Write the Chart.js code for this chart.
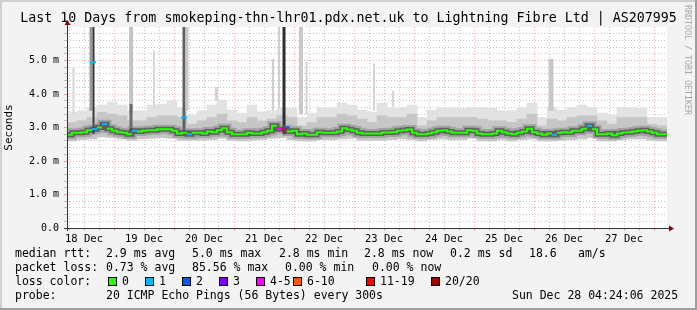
<!DOCTYPE html>
<html>
<head>
<meta charset="utf-8">
<script src="https://cdn.jsdelivr.net/npm/chart.js@4.4.1/dist/chart.umd.min.js"></script>
<style>
html, body { margin: 0; padding: 0; background: #f3f3f3; }
canvas { display: block; }
</style>
</head>
<body>
<canvas id="chart" width="697" height="310"></canvas>
<script>
// time axis in hours after 18 Dec 00:00
const startHour = 5.2;
const endHour = 245.2;
const medianStep = 2;
const smokeStep = 4;

const dayLabels = ['18 Dec', '19 Dec', '20 Dec', '21 Dec', '22 Dec', '23 Dec', '24 Dec', '25 Dec', '26 Dec', '27 Dec'];
const yLabels = ['0.0', '1.0 m', '2.0 m', '3.0 m', '4.0 m', '5.0 m'];

// median rtt (ms), one value per 2h
const median = [
	2.78, 2.84, 2.84, 2.86, 2.92, 2.95, 3.0, 3.1, 2.96, 2.9,
	2.86, 2.84, 2.8, 2.9, 2.88, 2.9, 2.92, 2.92, 2.95, 2.95,
	2.95, 2.9, 2.82, 2.84, 2.8, 2.84, 2.84, 2.82, 2.88, 2.86,
	2.92, 2.98, 2.86, 2.8, 2.8, 2.8, 2.84, 2.82, 2.82, 2.86,
	2.9, 3.05, 2.95, 2.95, 2.88, 2.9, 2.8, 2.82, 2.78, 2.78,
	2.86, 2.84, 2.84, 2.84, 2.88, 2.98, 2.94, 2.9, 2.84, 2.82,
	2.82, 2.82, 2.82, 2.85, 2.85, 2.86, 2.9, 2.92, 2.94, 2.84,
	2.8, 2.8, 2.82, 2.86, 2.9, 2.92, 2.88, 2.84, 2.84, 2.84,
	2.92, 2.9, 2.82, 2.8, 2.8, 2.82, 2.9, 2.86, 2.82, 2.8,
	2.84, 2.88, 2.96, 2.86, 2.82, 2.78, 2.82, 2.78, 2.84, 2.86,
	2.85, 2.9, 2.9, 2.96, 3.05, 2.95, 2.8, 2.8, 2.82, 2.77,
	2.82, 2.85, 2.86, 2.88, 2.9, 2.92, 2.88, 2.84, 2.8, 2.8
];
// bins of the median with packet loss, and their loss class
const lossBins = [5, 7, 13, 24, 42, 43, 97, 104];
const lossBinClass = [1, 1, 1, 1, 4, 6, 1, 1];

// lone median marks off the main line
const markHours = [15.6, 52.0, 92.8];
const markValues = [4.95, 3.3, 3.0];
const markClass = [1, 1, 2];

// smoke per 4h: bottom, middle band top, outer top (ms)
const smokeLo = [
	2.6, 2.64, 2.66, 2.72, 2.7, 2.66, 2.62, 2.66, 2.68, 2.7,
	2.68, 2.62, 2.62, 2.62, 2.64, 2.68, 2.62, 2.6, 2.62, 2.64,
	2.68, 2.7, 2.64, 2.6, 2.6, 2.64, 2.64, 2.66, 2.68, 2.62,
	2.62, 2.62, 2.64, 2.66, 2.64, 2.6, 2.64, 2.66, 2.64, 2.64,
	2.68, 2.6, 2.6, 2.64, 2.6, 2.64, 2.66, 2.6, 2.6, 2.62,
	2.64, 2.66, 2.7, 2.6, 2.6, 2.64, 2.66, 2.66, 2.62, 2.6
];
const smokeMid = [
	3.15, 3.2, 3.3, 3.45, 3.4, 3.35, 3.2, 3.2, 3.3, 3.35,
	3.35, 3.3, 3.1, 3.2, 3.3, 3.4, 3.2, 3.15, 3.3, 3.2,
	3.25, 3.35, 3.3, 3.05, 3.15, 3.3, 3.3, 3.4, 3.35, 3.25,
	3.15, 3.35, 3.3, 3.3, 3.4, 3.05, 3.2, 3.3, 3.3, 3.3,
	3.3, 3.25, 3.2, 3.2, 3.15, 3.25, 3.4, 3.05, 3.25, 3.2,
	3.3, 3.35, 3.35, 3.2, 3.1, 3.3, 3.3, 3.3, 3.1, 3.05
];
const smokeTop = [
	3.45, 3.5, 3.6, 3.67, 3.76, 3.67, 3.5, 3.5, 3.67, 3.7,
	3.8, 3.58, 3.37, 3.5, 3.67, 3.82, 3.52, 3.43, 3.67, 3.47,
	3.5, 3.6, 3.58, 3.3, 3.43, 3.6, 3.58, 3.73, 3.67, 3.52,
	3.46, 3.73, 3.58, 3.6, 3.67, 3.3, 3.52, 3.6, 3.58, 3.58,
	3.6, 3.6, 3.58, 3.5, 3.5, 3.6, 3.73, 3.3, 3.6, 3.52,
	3.6, 3.67, 3.6, 3.43, 3.37, 3.6, 3.6, 3.58, 3.3, 3.3
];

// tall single pings
const spikeHours = [7.8, 14.8, 15.8, 30.8, 30.8, 40.0, 52.0, 53.2, 65.0, 87.6, 90.0, 92.0, 98.8, 101.0, 128.0, 135.6, 198.8];
const spikeBase = [3.4, 3.5, 2.8, 3.4, 2.9, 3.6, 2.8, 3.5, 3.8, 3.5, 3.6, 2.8, 3.4, 3.4, 3.5, 3.6, 3.5];
const spikeTop = [4.8, 6.0, 6.0, 6.0, 3.7, 5.3, 6.0, 6.0, 4.2, 5.05, 6.0, 6.0, 6.0, 4.95, 4.9, 4.1, 5.05];

const medianStats = ['2.9 ms avg', '5.0 ms max', '2.8 ms min', '2.8 ms now', '0.2 ms sd', '18.6', 'am/s'];
const lossStats = ['0.73 % avg', '85.56 % max', '0.00 % min', '0.00 % now'];
const lossLabels = ['0', '1', '2', '3', '4-5', '6-10', '11-19', '20/20'];
const probeText = '20 ICMP Echo Pings (56 Bytes) every 300s';
const stampText = 'Sun Dec 28 04:24:06 2025';
const titleText = 'Last 10 Days from smokeping-thn-lhr01.pdx.net.uk to Lightning Fibre Ltd | AS207995';

// styles
const lossColors = ['#26ff00', '#00b8ff', '#0059ff', '#7e00ff', '#ff00ff', '#ff5500', '#ff0000', '#a10000'];
const spikeColors = ['#d4d4d4', '#9a9a9a', '#3a3a3a', '#c4c4c4', '#6a6a6a', '#d8d8d8', '#606060', '#c8c8c8', '#d4d4d4', '#d0d0d0', '#cfcfcf', '#2e2e2e', '#c8c8c8', '#d4d4d4', '#d4d4d4', '#d8d8d8', '#c8c8c8'];
const spikeWidths = [2, 3, 2, 4, 3, 2, 3, 3, 3, 2, 2, 3, 4, 2, 2, 2, 5];
const FONT = '"DejaVu Sans Mono", monospace';

function lossOf(i) {
	const k = lossBins.indexOf(i);
	return k < 0 ? 0 : lossBinClass[k];
}

let medianPts = [];
median.forEach((v, i) => {
	const x0 = startHour + i * medianStep;
	medianPts.push({x: x0, y: v}, {x: x0 + medianStep, y: v});
});

let smokeOuter = smokeTop.map((t, j) => ({x: startHour + smokeStep * (j + 0.5), y: [smokeLo[j], t]}));
let smokeInner = smokeMid.map((t, j) => ({x: startHour + smokeStep * (j + 0.5), y: [smokeLo[j], t]}));

let spikePts = [];
spikeHours.forEach((h, k) => {
	spikePts.push({x: h, y: spikeBase[k]}, {x: h, y: spikeTop[k]}, {x: h, y: null});
});

let markPts = markHours.map((h, k) => ({x: h, y: markValues[k]}));

const frame = {
	id: 'frame',
	beforeDraw(chart) {
		const c = chart.ctx;
		const a = chart.chartArea;
		c.save();
		c.fillStyle = '#f3f3f3';
		c.fillRect(0, 0, chart.width, chart.height);
		c.fillStyle = '#cfcfcf';
		c.fillRect(0, 0, chart.width, 2);
		c.fillRect(0, 0, 2, chart.height);
		c.fillStyle = '#9e9e9e';
		c.fillRect(0, chart.height - 2, chart.width, 2);
		c.fillRect(chart.width - 2, 0, 2, chart.height);
		c.fillStyle = '#ffffff';
		c.fillRect(a.left, a.top, a.right - a.left, a.bottom - a.top);
		c.restore();
	},
	afterDraw(chart) {
		const c = chart.ctx;
		const a = chart.chartArea;
		c.save();
		// axes
		c.strokeStyle = '#333333';
		c.lineWidth = 1;
		c.beginPath();
		c.moveTo(a.left - 3, a.bottom + 0.5);
		c.lineTo(a.right + 3, a.bottom + 0.5);
		c.moveTo(a.left + 0.5, a.bottom + 3);
		c.lineTo(a.left + 0.5, a.top - 3);
		c.stroke();
		c.fillStyle = '#8b0000';
		c.beginPath();
		c.moveTo(a.right + 7, a.bottom + 0.5);
		c.lineTo(a.right + 2, a.bottom - 2.5);
		c.lineTo(a.right + 2, a.bottom + 3.5);
		c.fill();
		c.beginPath();
		c.moveTo(a.left + 0.5, a.top - 7);
		c.lineTo(a.left - 2.5, a.top - 2);
		c.lineTo(a.left + 3.5, a.top - 2);
		c.fill();

		// title
		c.fillStyle = '#000000';
		c.font = '13.3px ' + FONT;
		c.textAlign = 'center';
		c.textBaseline = 'middle';
		c.fillText(titleText, chart.width / 2, 19);

		// legend
		c.font = '11.5px ' + FONT;
		c.textAlign = 'left';
		const rowY = [254, 268, 282, 296];
		c.fillText('median rtt:', 15, rowY[0]);
		const medX = [106, 192, 279, 364, 450, 529, 578];
		medianStats.forEach((t, i) => c.fillText(t, medX[i], rowY[0]));
		c.fillText('packet loss:', 15, rowY[1]);
		const lossX = [106, 192, 285, 372];
		lossStats.forEach((t, i) => c.fillText(t, lossX[i], rowY[1]));
		c.fillText('loss color:', 15, rowY[2]);
		const boxX = [108, 145, 182, 219, 256, 293, 366, 431];
		lossLabels.forEach((t, i) => {
			c.fillStyle = lossColors[i];
			c.fillRect(boxX[i], 277.5, 8, 8);
			c.strokeStyle = '#000000';
			c.strokeRect(boxX[i] + 0.5, 277.5, 8, 8);
			c.fillStyle = '#000000';
			c.fillText(t, boxX[i] + 14, rowY[2]);
		});
		c.fillText('probe:', 15, rowY[3]);
		c.fillText(probeText, 106, rowY[3]);
		c.fillText(stampText, 512, rowY[3]);

		// rrdtool credit
		c.translate(683, 5);
		c.rotate(Math.PI / 2);
		c.font = '8.3px ' + FONT;
		c.fillStyle = '#a8a8a8';
		c.textBaseline = 'middle';
		c.fillText('RRDTOOL / TOBI OETIKER', 0, -4);
		c.restore();
	}
};

new Chart(document.getElementById('chart'), {
	type: 'bar',
	data: {
		datasets: [
			{
				type: 'bar',
				data: smokeOuter,
				backgroundColor: '#e2e2e2',
				grouped: false,
				barPercentage: 1,
				categoryPercentage: 1,
				order: 10,
			},
			{
				type: 'bar',
				data: smokeInner,
				backgroundColor: '#c6c6c6',
				grouped: false,
				barPercentage: 1,
				categoryPercentage: 1,
				order: 9,
			},
			{
				type: 'line',
				data: spikePts,
				spanGaps: false,
				pointRadius: 0,
				borderWidth: 2,
				segment: {
					borderColor: ctx => spikeColors[Math.floor(ctx.p0DataIndex / 3)],
					borderWidth: ctx => spikeWidths[Math.floor(ctx.p0DataIndex / 3)],
				},
				order: 8,
			},
			{
				type: 'line',
				data: medianPts,
				pointRadius: 0,
				borderWidth: 9,
				borderColor: 'rgba(120,120,120,0.45)',
				order: 3,
			},
			{
				type: 'line',
				data: medianPts,
				pointRadius: 0,
				borderWidth: 5,
				borderColor: 'rgba(50,50,50,0.6)',
				order: 2,
			},
			{
				type: 'line',
				data: medianPts,
				pointRadius: 0,
				borderWidth: 2,
				segment: {
					borderColor: ctx => {
						const p = ctx.p0DataIndex;
						const i = Math.floor(p / 2);
						if(p % 2 === 0)
							return lossColors[lossOf(i)];
						return lossOf(i) === lossOf(i + 1) ? lossColors[lossOf(i)] : 'rgba(0,0,0,0)';
					},
				},
				order: 1,
			},
			{
				type: 'line',
				data: markPts,
				showLine: false,
				pointStyle: 'line',
				pointRadius: 3,
				pointBorderWidth: 2,
				pointBorderColor: markClass.map(k => lossColors[k]),
				order: 0,
			},
		],
	},
	options: {
		responsive: false,
		animation: false,
		events: [],
		layout: {padding: {left: 0, right: 30, top: 27, bottom: 0}},
		plugins: {legend: {display: false}, tooltip: {enabled: false}},
		scales: {
			x: {
				type: 'linear',
				offset: false,
				min: startHour,
				max: endHour,
				z: 1,
				afterFit: s => { s.height = 82; },
				afterBuildTicks: s => { s.ticks = Array.from({length: 40}, (_, i) => ({value: 6 * (i + 1)})); },
				grid: {
					offset: false,
					color: ctx => ctx.tick && ctx.tick.value % 24 === 0 ? 'rgba(255,0,0,0.35)' : 'rgba(140,140,140,0.5)',
					tickLength: 3,
				},
				border: {display: false, dash: [1, 2]},
				ticks: {
					autoSkip: false,
					maxRotation: 0,
					padding: 2,
					color: '#000000',
					font: {family: FONT, size: 10.5},
					callback: v => (v % 24 === 12 ? dayLabels[(v - 12) / 24] : ''),
				},
			},
			y: {
				min: 0,
				max: 6,
				z: 1,
				afterFit: s => { s.width = 67; },
				afterBuildTicks: s => { s.ticks = Array.from({length: 31}, (_, i) => ({value: i / 5})); },
				grid: {
					color: ctx => {
						if(!ctx.tick) return 'rgba(0,0,0,0)';
						const v = Math.round(ctx.tick.value * 5);
						if(v === 30) return 'rgba(0,0,0,0)';
						return v % 5 === 0 ? 'rgba(255,0,0,0.35)' : 'rgba(140,140,140,0.5)';
					},
					tickLength: 3,
				},
				border: {display: false, dash: [1, 2]},
				title: {
					display: true,
					text: 'Seconds',
					color: '#000000',
					font: {family: FONT, size: 11},
					padding: {top: 3, bottom: 0},
				},
				ticks: {
					autoSkip: false,
					padding: 5,
					color: '#000000',
					font: {family: FONT, size: 10},
					callback: v => {
						const r = Math.round(v * 5);
						return (r % 5 === 0 && r / 5 < yLabels.length) ? yLabels[r / 5] : '';
					},
				},
			},
		},
	},
	plugins: [frame],
});
</script>
</body>
</html>
